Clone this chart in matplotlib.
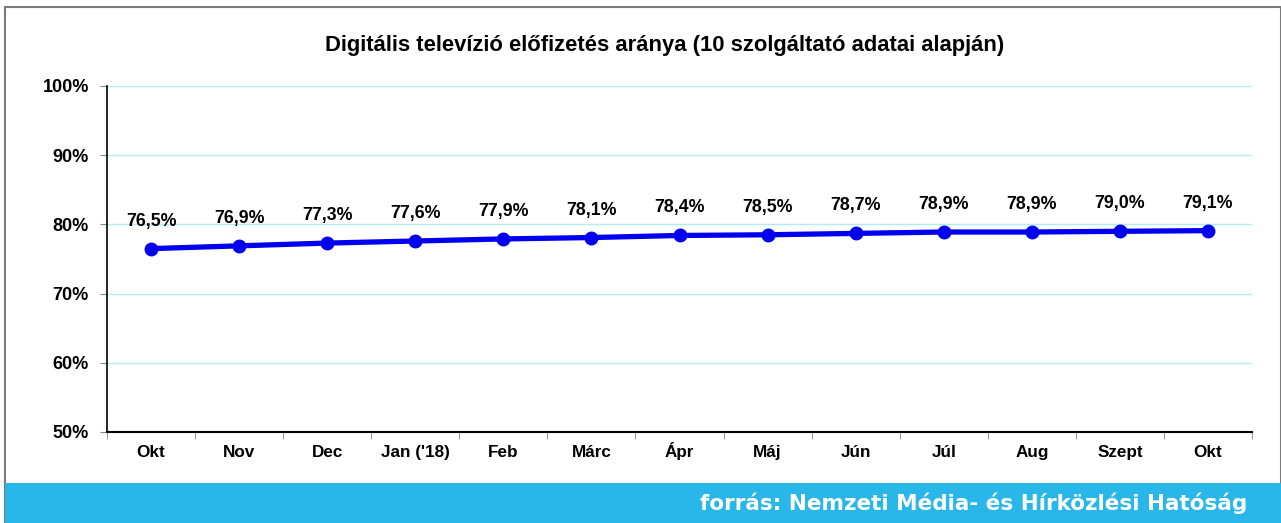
import matplotlib.pyplot as plt
from matplotlib.patches import Rectangle

# Digitális televízió előfizetés aránya
months = ['Okt', 'Nov', 'Dec', "Jan ('18)", 'Feb', 'Márc', 'Ápr', 'Máj',
          'Jún', 'Júl', 'Aug', 'Szept', 'Okt']
share = [76.5, 76.9, 77.3, 77.6, 77.9, 78.1, 78.4, 78.5, 78.7, 78.9, 78.9, 79.0, 79.1]
yticks = [50, 60, 70, 80, 90, 100]

plt.rcParams['font.family'] = ['Liberation Sans', 'DejaVu Sans']
plt.rcParams['font.weight'] = 'bold'

W, H = 1281, 523
fig = plt.figure(figsize=(W / 100, H / 100), dpi=100)

# frame and bottom banner
fig.patches.append(Rectangle((5 / W, 0), 1 - 5 / W, 1 - 7 / H, transform=fig.transFigure,
                             fill=False, edgecolor='#7a7a7a', linewidth=1.5))
fig.patches.append(Rectangle((5 / W, 0), 1 - 5 / W, 40 / H, transform=fig.transFigure,
                             facecolor='#29b6e8', edgecolor='none'))
fig.text(1247 / W, 20 / H, 'forrás: Nemzeti Média- és Hírközlési Hatóság',
         color='white', fontsize=15.5, fontweight='bold', ha='right', va='center',
         family='DejaVu Sans')

ax = fig.add_axes([107 / W, (H - 432) / H, (1252 - 107) / W, (432 - 86) / H])
x = list(range(len(months)))
ax.plot(x, share, color='#0000ee', linewidth=3.8, marker='o', markersize=9, zorder=3)
for xi, v in zip(x, share):
    ax.annotate(f'{v:.1f}%'.replace('.', ','), (xi, v), xytext=(0, 19),
                textcoords='offset pixels', ha='center', va='bottom',
                fontsize=12.8, fontweight='bold')

ax.set_xlim(-0.5, len(months) - 0.5)
ax.set_ylim(50, 100)
ax.set_yticks(yticks)
ax.set_yticklabels([f'{t}%' for t in yticks], fontsize=13, fontweight='bold')
ax.set_xticks(x)
ax.set_xticklabels(months, fontsize=12.3, fontweight='bold')
for lbl in ax.get_xticklabels():
    lbl.set_verticalalignment('baseline')
ax.set_xticks([i - 0.5 for i in range(len(months) + 1)], minor=True)
ax.tick_params(axis='x', which='major', length=0, pad=18)
ax.tick_params(axis='x', which='minor', length=5, color='#888888')
ax.tick_params(axis='y', length=5, color='#888888', pad=8)
ax.grid(axis='y', color='#b0eef5', linewidth=1)
ax.set_axisbelow(True)
for s in ['top', 'right']:
    ax.spines[s].set_visible(False)
ax.spines['left'].set_linewidth(1.2)
ax.spines['bottom'].set_linewidth(1.5)

fig.text(665 / W, (H - 45) / H, 'Digitális televízió előfizetés aránya (10 szolgáltató adatai alapján)',
         fontsize=15.8, fontweight='bold', ha='center', va='center')

fig.savefig('out.png', dpi=100)
